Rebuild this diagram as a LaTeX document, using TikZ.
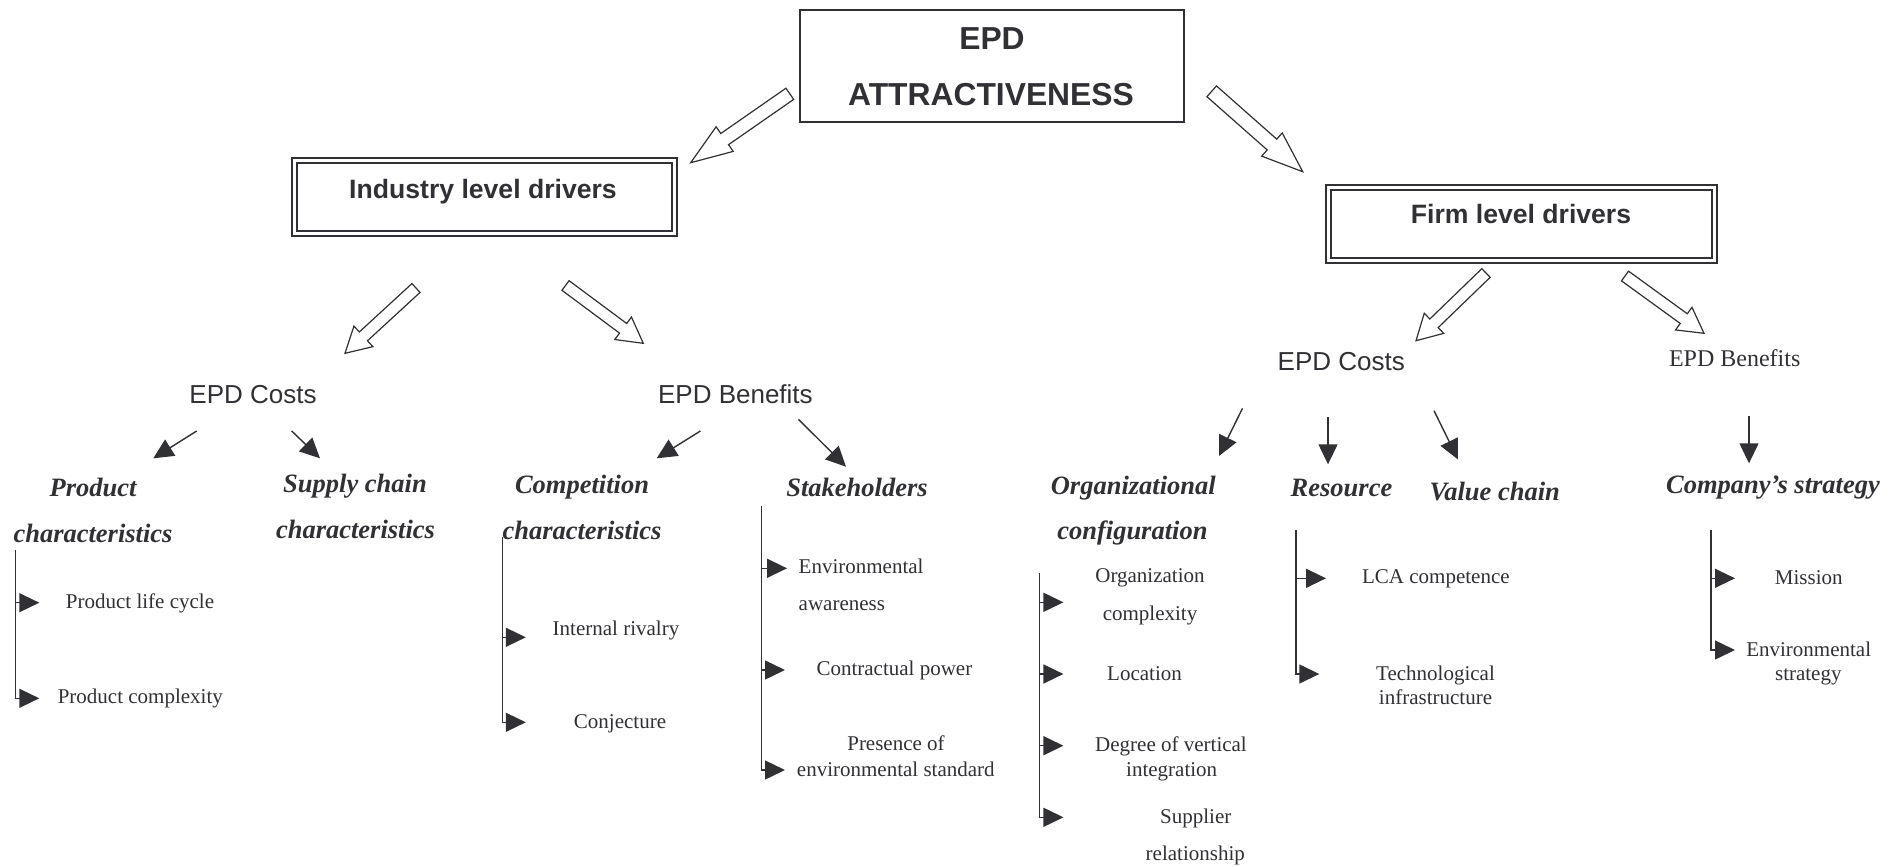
\documentclass[tikz,border=0pt]{standalone}
\usepackage{fontspec}
\setmainfont{Liberation Serif}
\setsansfont{Liberation Sans}
\usetikzlibrary{arrows.meta,calc}

\definecolor{ink}{RGB}{48,48,53}

% hollow block arrow from #1 (tail) to #2 (tip):
% #3 shaft half width, #4 head half width, #5 head length
\newcommand\hollowarrow[5]{%
  \draw[hollow] let \p1=(#1), \p2=(#2),
    \n1={atan2(\y2-\y1,\x2-\x1)},
    \n2={veclen(\x2-\x1,\y2-\y1)-#5}
  in ($(\p1)+({\n1+90}:#3)$)
  -- ($(\p1)+(\n1:\n2)+({\n1+90}:#3)$)
  -- ($(\p1)+(\n1:\n2)+({\n1+90}:#4)$)
  -- (\p2)
  -- ($(\p1)+(\n1:\n2)+({\n1-90}:#4)$)
  -- ($(\p1)+(\n1:\n2)+({\n1-90}:#3)$)
  -- ($(\p1)+({\n1-90}:#3)$) -- cycle;}

\tikzset{
  box/.style={draw=ink, line width=1.8pt, inner sep=0pt},
  dbox/.style={draw=ink, line width=1.6pt, double=white, double distance=3.4pt, inner sep=0pt},
  hollow/.style={draw=ink, line width=1.2pt, fill=white, line join=miter},
  thinarrow/.style={draw=ink, line width=1.4pt, -{Triangle[length=20pt,width=19pt]}},
  txt/.style={text=ink, inner sep=0pt, anchor=base},
  headline/.style={txt, font=\sffamily\bfseries\fontsize{31.8}{36}\selectfont},
  levelname/.style={txt, font=\sffamily\bfseries\fontsize{26.6}{30}\selectfont},
  sanslabel/.style={txt, font=\sffamily\fontsize{26}{30}\selectfont},
  seriflabel/.style={txt, font=\fontsize{24}{28}\selectfont},
  factor/.style={txt, font=\bfseries\itshape\fontsize{26.5}{30}\selectfont},
  item/.style={txt, font=\fontsize{21}{25}\selectfont},
}

\begin{document}
\begin{tikzpicture}[x=1pt, y=-1pt]
\useasboundingbox (0,0) rectangle (1896,867);

% ---------- boxes ----------
\node[box, minimum width=384.3pt, minimum height=112.3pt] (top) at (992.15,66.15) {};
\node[headline] (topA) at (992,50) {EPD};
\node[headline] (topB) at (991,106) {ATTRACTIVENESS};

\node[dbox, minimum width=379.8pt, minimum height=72.5pt] (ind) at (484.6,196.95) {};
\node[levelname] (indT) at (483,198.3) {Industry level drivers};

\node[dbox, minimum width=386pt, minimum height=72.7pt] (firm) at (1521.35,223.85) {};
\node[levelname] (firmT) at (1521,223.3) {Firm level drivers};

% ---------- block arrows ----------
\coordinate (b1t) at (789.8,93.8);   \coordinate (b1h) at (690.7,162.7);
\coordinate (b2t) at (1211.7,91.3);  \coordinate (b2h) at (1302.7,171.7);
\coordinate (b3t) at (416,288);      \coordinate (b3h) at (345,353.3);
\coordinate (b4t) at (565.5,285.5);  \coordinate (b4h) at (643.3,343.3);
\coordinate (b5t) at (1486,273);     \coordinate (b5h) at (1416,340.7);
\coordinate (b6t) at (1625,276);     \coordinate (b6h) at (1704,333.3);
\hollowarrow{b1t}{b1h}{6.8pt}{15pt}{41}
\hollowarrow{b2t}{b2h}{7.2pt}{15.5pt}{41}
\hollowarrow{b3t}{b3h}{6pt}{14pt}{25}
\hollowarrow{b4t}{b4h}{6pt}{14pt}{25}
\hollowarrow{b5t}{b5h}{6pt}{14pt}{25}
\hollowarrow{b6t}{b6h}{6pt}{14pt}{25}

% ---------- cost / benefit labels ----------
\node[sanslabel] (costL) at (253,403.3) {EPD Costs};
\node[sanslabel] (benL) at (735.4,403.3) {EPD Benefits};
\node[sanslabel] (costR) at (1341.3,370) {EPD Costs};
\node[seriflabel] (benR) at (1734.7,366.7) {EPD Benefits};

% ---------- thin arrows ----------
\coordinate (c1s) at (196.7,431);  \coordinate (c1e) at (153.3,458.3);
\coordinate (c2s) at (291.7,431);  \coordinate (c2e) at (320,458.3);
\coordinate (c3s) at (700.4,431);  \coordinate (c3e) at (656.7,458.3);
\coordinate (c4s) at (798.5,419.3); \coordinate (c4e) at (846,466.7);
\coordinate (c5s) at (1242.5,408.3); \coordinate (c5e) at (1219,456);
\coordinate (c6s) at (1328,417.3);  \coordinate (c6e) at (1328,464.3);
\coordinate (c7s) at (1434,410.7);  \coordinate (c7e) at (1458,459.5);
\coordinate (c8s) at (1749,416);    \coordinate (c8e) at (1749,463.3);
\foreach \k in {1,...,8} \draw[thinarrow] (c\k s) -- (c\k e);

% ---------- factors ----------
\node[factor] (prodA) at (93,496.7) {Product};
\node[factor] (prodB) at (93,542.7) {characteristics};
\node[factor] (suppA) at (355,492.7) {Supply chain};
\node[factor] (suppB) at (355.5,538.3) {characteristics};
\node[factor] (compA) at (582,493.3) {Competition};
\node[factor] (compB) at (582,539.3) {characteristics};
\node[factor] (stak) at (857,496) {Stakeholders};
\node[factor] (orgA) at (1133.3,494.3) {Organizational};
\node[factor] (orgB) at (1132.4,539.3) {configuration};
\node[factor] (res) at (1341.5,496.7) {Resource};
\node[factor] (val) at (1494.7,500.7) {Value chain};
\node[factor] (strat) at (1773,493.3) {Company’s strategy};

% ---------- items ----------
\node[item] (i1) at (140,608.3) {Product life cycle};
\node[item] (i2) at (140.3,703.3) {Product complexity};
\node[item] (i3) at (616,635) {Internal rivalry};
\node[item] (i4) at (620,728.3) {Conjecture};
\node[item, anchor=base west] (i5a) at (798.5,573.3) {Environmental};
\node[item, anchor=base west] (i5b) at (798.5,610) {awareness};
\node[item] (i6) at (894.4,675) {Contractual power};
\node[item] (i7a) at (896,750.7) {Presence of};
\node[item] (i7b) at (895.8,776) {environmental standard};
\node[item] (i8a) at (1150,582.7) {Organization};
\node[item] (i8b) at (1150,620) {complexity};
\node[item] (i9) at (1144.5,680) {Location};
\node[item] (i10a) at (1171,751.7) {Degree of vertical};
\node[item] (i10b) at (1171.7,776) {integration};
\node[item] (i11a) at (1195.8,823.3) {Supplier};
\node[item] (i11b) at (1195.3,860) {relationship};
\node[item] (i12) at (1435.9,583.3) {LCA competence};
\node[item] (i13a) at (1435.5,680) {Technological};
\node[item] (i13b) at (1435.5,704) {infrastructure};
\node[item] (i14) at (1808.8,584) {Mission};
\node[item] (i15a) at (1808.7,656.7) {Environmental};
\node[item] (i15b) at (1808.3,680) {strategy};

% ---------- brackets ----------
% product characteristics
\coordinate (pT) at (15.7,550);
\coordinate (p1) at (39.3,602.7); \coordinate (p2) at (39.3,698.3);
\draw[thinarrow] (pT) |- (p2);
\draw[thinarrow] (pT |- p1) -- (p1);
% competition characteristics
\coordinate (qT) at (502.4,537);
\coordinate (q1) at (525.8,637.3); \coordinate (q2) at (525.8,722.3);
\draw[thinarrow] (qT) |- (q2);
\draw[thinarrow] (qT |- q1) -- (q1);
% stakeholders
\coordinate (sT) at (761.7,506);
\coordinate (s1) at (787,568.3); \coordinate (s2) at (785,670); \coordinate (s3) at (785,770);
\draw[thinarrow] (sT) |- (s3);
\draw[thinarrow] (sT |- s1) -- (s1);
\draw[thinarrow] (sT |- s2) -- (s2);
% organizational configuration
\coordinate (oT) at (1039.6,573.3);
\coordinate (o1) at (1063.4,602.3); \coordinate (o2) at (1063.4,674);
\coordinate (o3) at (1063.4,745.7); \coordinate (o4) at (1063.4,817.3);
\draw[thinarrow] (oT) |- (o4);
\draw[thinarrow] (oT |- o1) -- (o1);
\draw[thinarrow] (oT |- o2) -- (o2);
\draw[thinarrow] (oT |- o3) -- (o3);
% resource
\coordinate (rT) at (1295.8,530);
\coordinate (r1) at (1326,578.3); \coordinate (r2) at (1319.3,674);
\draw[thinarrow] (rT) |- (r2);
\draw[thinarrow] (rT |- r1) -- (r1);
% company's strategy
\coordinate (kT) at (1711,530);
\coordinate (k1) at (1735,578.3); \coordinate (k2) at (1735,650);
\draw[thinarrow] (kT) |- (k2);
\draw[thinarrow] (kT |- k1) -- (k1);
\end{tikzpicture}
\end{document}
